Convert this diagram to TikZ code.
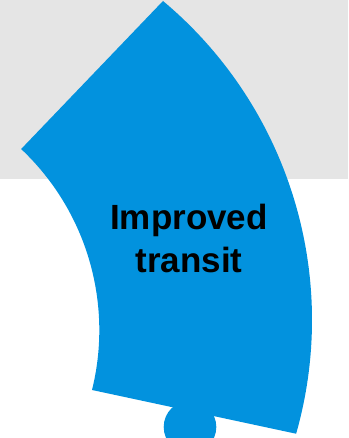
\documentclass[tikz,border=0pt]{standalone}
\usepackage{fontspec}
\setmainfont{Liberation Sans}
\definecolor{bgGray}{RGB}{229,229,229}
\definecolor{pieceBlue}{RGB}{2,146,222}
\begin{document}
\begin{tikzpicture}[x=1pt,y=1pt,
  piece/.style={fill=pieceBlue,draw=none},
  label/.style={font=\bfseries\fontsize{35}{43.4}\selectfont,text=black,align=center,inner sep=0pt}]
\useasboundingbox (0,0) rectangle (348,438);
\clip (0,0) rectangle (348,438);
\fill[bgGray] (0,259.3) rectangle (348,438);
\coordinate (top) at (163,437);
\coordinate (leftv) at (21.5,288.9);
\path[piece] (top) arc[start angle=50.07,end angle=-15.87,radius=416]
  -- (92,48) arc[start angle=-13.91,end angle=46.67,radius=249]
  -- cycle;
\fill[pieceBlue] (190,11) circle[radius=26.3];
\node[label,anchor=base] (txt) at (189,165.3) {Improved\\transit};
\end{tikzpicture}
\end{document}
